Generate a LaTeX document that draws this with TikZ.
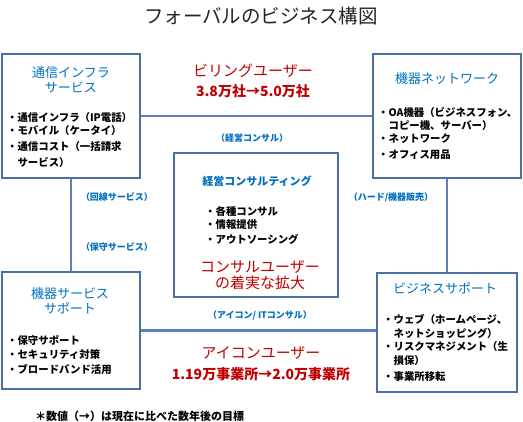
\documentclass[tikz,border=0pt]{standalone}
\usepackage{fontspec}
\setmainfont{Noto Sans CJK JP}
\definecolor{hdblue}{HTML}{0070C0}
\definecolor{ured}{HTML}{C00000}
\definecolor{lnblue}{HTML}{5B82B8}
\definecolor{bxblue}{HTML}{4A6FA3}
\begin{document}
\begin{tikzpicture}[x=1pt,y=-1pt,
  box/.style={draw=bxblue,line width=1.4pt,fill=white,inner sep=0pt},
  conn/.style={draw=lnblue,line width=2.6pt},
  hdr/.style={text=hdblue,font=\fontsize{13}{16}\selectfont,align=center,inner sep=0pt},
  hdrb/.style={text=hdblue,font=\fontsize{11}{14}\selectfont\bfseries,align=center,inner sep=0pt},
  item/.style={anchor=west,font=\fontsize{10.4}{12}\selectfont\bfseries,inner sep=0pt},
  lbl/.style={text=hdblue,font=\fontsize{9}{11}\selectfont\bfseries,inner sep=0pt},
  red/.style={text=ured,font=\fontsize{15}{18}\selectfont,align=center,inner sep=0pt},
  redb/.style={text=ured,font=\fontsize{14}{17}\selectfont\bfseries,align=center,inner sep=0pt}]
\useasboundingbox (0,0) rectangle (523,422);
\fill[white] (0,0) rectangle (523,422);
% boxes
\node[box,minimum width=138pt,minimum height=124pt] (tl) at (71,116) {};
\node[box,minimum width=148pt,minimum height=124pt] (tr) at (447,116) {};
\node[box,minimum width=164pt,minimum height=144pt] (cc) at (256,225) {};
\node[box,minimum width=138pt,minimum height=117pt] (bl) at (71,330.5) {};
\node[box,minimum width=140pt,minimum height=119pt] (br) at (447,332.5) {};
% connectors
\path[conn] (tl.east) -- (tr.west);
\path[conn] (tl.south) -- (bl.north);
\path[conn] (tr.south) -- (br.north);
\path[conn] (bl.east) -- (br.west |- bl.east);
% redraw boxes on top of connector ends
\node[box,minimum width=138pt,minimum height=124pt] at (71,116) {};
\node[box,minimum width=148pt,minimum height=124pt] at (447,116) {};
\node[box,minimum width=140pt,minimum height=119pt] at (447,332.5) {};
\node[box,minimum width=138pt,minimum height=117pt] at (71,330.5) {};
% title
\node[font=\fontsize{19.5}{22}\selectfont,text=black!85] (title) at (261,16) {フォーバルのビジネス構図};
% TL
\node[hdr] (tlh) at (71,80) {通信インフラ\\[-1pt]サービス};
\node[item] (tl1) at (7,118) {・通信インフラ（IP電話）};
\node[item] (tl2) at (7,131) {・モバイル（ケータイ）};
\node[item] (tl3) at (7,147) {・通信コスト（一括請求};
\node[item] (tl4) at (7,162) {\phantom{・}サービス）};
% TR
\node[hdr] (trh) at (447,79) {機器ネットワーク};
\node[item] (tr1) at (378,112) {・OA機器（ビジネスフォン、};
\node[item] (tr2) at (378,126) {\phantom{・}コピー機、サーバー）};
\node[item] (tr3) at (378,139) {・ネットワーク};
\node[item] (tr4) at (378,155) {・オフィス用品};
% billing
\node[red] (bill1) at (253,71) {ビリングユーザー};
\node[redb] (bill2) at (253,91) {3.8万社→5.0万社};
\node[lbl] (l1) at (252,138) {（経営コンサル）};
% center
\node[hdrb] (cch) at (257,181) {経営コンサルティング};
\node[item] (cc1) at (205,211) {・各種コンサル};
\node[item] (cc2) at (205,225) {・情報提供};
\node[item] (cc3) at (205,239) {・アウトソーシング};
\node[red] (cr) at (260,275) {コンサルユーザー\\[-2pt]の着実な拡大};
% side labels
\node[lbl] (l2) at (117,197) {（回線サービス）};
\node[lbl] (l3) at (117,247) {（保守サービス）};
\node[lbl] (l4) at (391,197) {（ハード/機器販売）};
% BL
\node[hdr] (blh) at (70,301) {機器サービス\\[-1pt]サポート};
\node[item] (bl1) at (7,340) {・保守サポート};
\node[item] (bl2) at (7,355) {・セキュリティ対策};
\node[item] (bl3) at (7,369) {・ブロードバンド活用};
% BR
\node[hdr] (brh) at (445,288) {ビジネスサポート};
\node[item] (br1) at (383,319) {・ウェブ（ホームページ、};
\node[item] (br2) at (383,333) {\phantom{・}ネットショッピング）};
\node[item] (br3) at (383,347) {・リスクマネジメント（生};
\node[item] (br4) at (383,361) {\phantom{・}損保）};
\node[item] (br5) at (383,377) {・事業所移転};
% bottom
\node[lbl] (l5) at (260,315) {（アイコン/ ITコンサル）};
\node[red] (icon1) at (261,353) {アイコンユーザー};
\node[redb] (icon2) at (261,374) {1.19万事業所→2.0万事業所};
\node[item,font=\fontsize{11}{13}\selectfont\bfseries] (note) at (35,416) {＊数値（→）は現在に比べた数年後の目標};
\end{tikzpicture}
\end{document}
